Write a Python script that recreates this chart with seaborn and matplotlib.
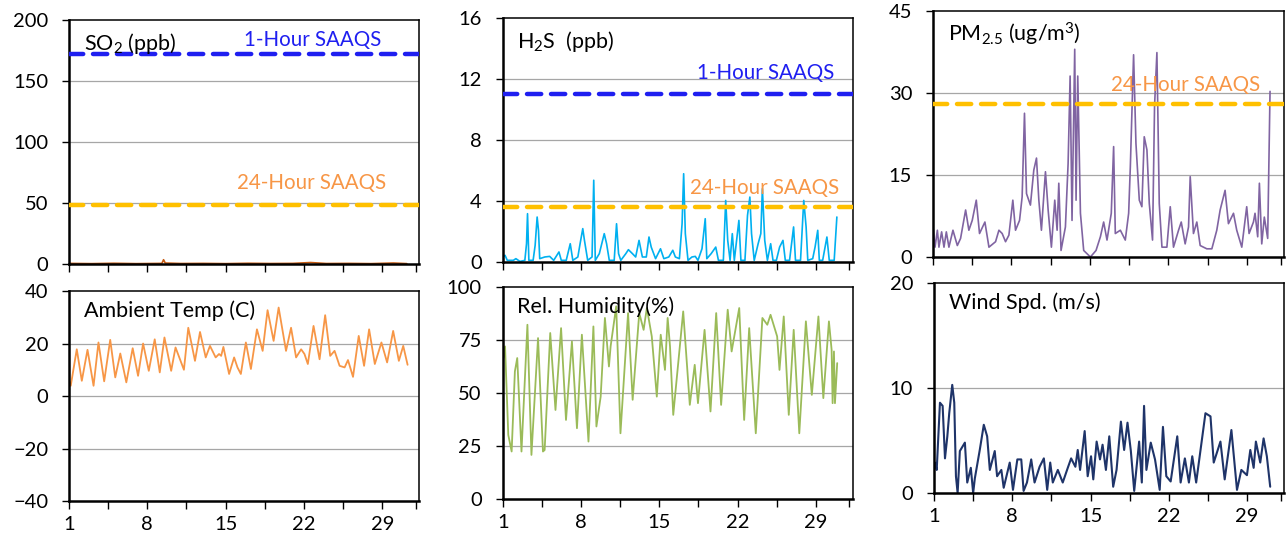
"""Monthly air quality and met summary, six panels."""

import matplotlib
matplotlib.use("Agg")
import matplotlib.pyplot as plt
import seaborn as sns

# --- data (day of month, value) ---
so2_day = [1.0, 3.0, 5.0, 7.0, 9.3, 9.45, 9.6, 11.0, 13.0, 15.0, 17.0, 19.0, 21.0, 22.6, 24.0, 26.0, 28.0, 30.0, 31.2]
so2_val = [0.5, 0.3, 0.6, 0.3, 0.5, 3.5, 0.8, 0.4, 0.5, 0.3, 0.6, 0.4, 0.5, 1.2, 0.4, 0.5, 0.3, 0.8, 0.3]

h2s_day = [1.00, 1.21, 1.41, 1.95, 2.18, 2.54, 2.98, 3.13, 3.22, 3.34, 3.72, 3.90, 4.08, 4.20, 4.31,
           4.76, 5.20, 5.56, 6.03, 6.24, 6.68, 7.04, 7.27, 7.72, 7.92, 8.16, 8.31, 8.60, 8.99, 9.14,
           9.28, 9.64, 10.08, 10.29, 10.53, 10.97, 11.18, 11.36, 11.56, 12.01, 12.24, 12.60, 12.89,
           13.19, 13.49, 13.84, 14.08, 14.28, 14.67, 15.11, 15.41, 15.85, 16.21, 16.44, 16.80, 17.04,
           17.18, 17.33, 17.57, 17.92, 18.22, 18.46, 18.82, 19.11, 19.25, 19.64, 20.05, 20.29, 20.73,
           20.94, 21.12, 21.33, 21.53, 21.71, 22.12, 22.30, 22.66, 22.89, 23.10, 23.25, 23.49, 23.84,
           24.08, 24.22, 24.43, 24.67, 24.96, 25.17, 25.47, 25.76, 26.06, 26.27, 26.65, 27.01, 27.18,
           27.63, 27.92, 28.13, 28.28, 28.72, 28.93, 29.17, 29.31, 29.61, 29.99, 30.20, 30.64, 30.88]
h2s_val = [0.33, 0.44, 0.11, 0.11, 0.22, 0.04, 0.11, 1.20, 3.17, 0.11, 0.11, 1.09, 2.95, 2.08, 0.22,
           0.33, 0.37, 0.11, 0.66, 0.11, 0.11, 1.20, 0.11, 0.33, 1.20, 2.19, 1.42, 0.11, 0.33, 5.36,
           0.11, 0.55, 1.86, 1.20, 0.11, 0.11, 2.51, 0.55, 0.11, 0.55, 0.81, 0.55, 0.33,
           1.42, 0.33, 0.33, 1.64, 0.98, 0.22, 0.87, 0.22, 0.33, 0.77, 0.33, 0.22, 2.51,
           5.79, 1.86, 0.11, 0.33, 0.37, 0.11, 0.87, 2.84, 0.22, 0.55, 0.98, 0.11, 0.11,
           4.04, 1.42, 0.11, 1.86, 0.11, 2.73, 0.11, 0.11, 3.06, 4.26, 1.86, 0.11, 1.20,
           1.86, 4.81, 1.42, 0.11, 1.20, 0.11, 0.11, 0.98, 1.42, 0.11, 0.11, 2.30, 0.11,
           0.11, 4.04, 2.30, 0.11, 0.22, 0.98, 2.08, 0.11, 0.11, 1.64, 0.11, 0.11, 2.95]

pm_day = [1.00, 1.18, 1.39, 1.53, 1.77, 1.98, 2.19, 2.42, 2.78, 3.17, 3.46, 3.91, 4.20, 4.50, 4.86,
          5.15, 5.63, 5.99, 6.58, 6.88, 7.17, 7.47, 7.77, 8.12, 8.36, 8.72, 8.95, 9.16, 9.34, 9.69,
          9.99, 10.23, 10.44, 10.67, 11.03, 11.27, 11.56, 11.86, 12.07, 12.22, 12.42, 12.81, 13.05,
          13.23, 13.40, 13.64, 13.76, 13.91, 14.15, 14.44, 15.04, 15.54, 15.93, 16.22, 16.52, 16.90,
          17.11, 17.26, 17.71, 18.15, 18.45, 18.60, 18.89, 19.10, 19.40, 19.63, 19.84, 20.08, 20.29,
          20.58, 20.76, 20.97, 21.18, 21.42, 21.86, 22.16, 22.45, 22.90, 23.14, 23.49, 23.79, 23.94,
          24.23, 24.53, 24.83, 25.42, 25.87, 26.31, 26.61, 27.05, 27.35, 27.80, 28.09, 28.54, 28.98,
          29.19, 29.58, 29.72, 29.96, 30.11, 30.32, 30.55, 30.85, 31.06]
pm_val = [5.5, 1.8, 4.9, 1.8, 4.6, 1.8, 4.6, 1.8, 4.9, 2.1, 3.4, 8.6, 4.9, 6.7, 10.4,
          4.3, 6.4, 1.8, 2.8, 4.9, 4.3, 2.8, 4.0, 10.4, 4.9, 6.7, 11.0, 26.3, 11.6, 9.5,
          15.9, 18.1, 10.4, 4.9, 15.6, 8.6, 1.8, 10.4, 4.9, 13.5, 1.2, 5.5, 17.1,
          33.1, 6.7, 38.0, 10.4, 33.1, 8.0, 1.2, 0.0, 1.2, 3.7, 6.4, 3.1, 8.0,
          20.2, 4.3, 4.9, 3.1, 8.0, 16.5, 37.0, 20.8, 10.4, 9.2, 22.0, 19.6, 9.8,
          3.1, 27.6, 37.4, 9.8, 1.8, 1.8, 9.2, 1.8, 4.9, 6.4, 2.4, 5.5, 14.7,
          4.3, 6.4, 2.1, 1.5, 1.5, 4.9, 8.6, 12.2, 6.1, 8.0, 4.9, 1.8, 9.2,
          4.3, 6.4, 8.0, 3.7, 13.5, 2.4, 7.3, 3.4, 30.3]

temp_day = [1.00, 1.15, 1.69, 2.14, 2.65, 3.19, 3.63, 4.14, 4.68, 5.13, 5.58, 6.12, 6.69, 7.17,
            7.62, 8.13, 8.66, 9.11, 9.53, 10.13, 10.52, 11.27, 11.66, 12.26, 12.71, 13.22, 13.60,
            14.11, 14.41, 14.60, 14.80, 15.31, 15.76, 16.06, 16.36, 16.81, 17.26, 17.80, 18.31,
            18.75, 19.29, 19.74, 20.40, 20.85, 21.30, 21.75, 22.05, 22.35, 22.86, 23.40, 23.90,
            24.35, 24.74, 25.19, 25.64, 25.94, 26.39, 26.90, 27.38, 27.83, 28.34, 28.93, 29.44,
            29.98, 30.49, 30.88, 31.27]
temp_val = [5.8, 3.9, 17.8, 5.8, 17.6, 3.9, 20.4, 5.6, 21.4, 7.1, 16.2, 5.2, 18.2, 7.7,
            20.0, 9.6, 21.6, 9.0, 22.3, 9.6, 18.5, 10.0, 26.0, 13.4, 24.4, 14.7, 19.1,
            14.7, 16.0, 15.3, 18.7, 8.4, 14.7, 10.9, 8.4, 20.4, 10.3, 25.4, 17.2,
            32.7, 21.0, 33.7, 17.2, 26.0, 14.7, 17.8, 16.0, 12.2, 26.7, 14.0, 30.8,
            15.3, 17.2, 11.5, 10.9, 13.7, 7.3, 22.9, 11.5, 25.4, 12.2, 20.4, 12.8,
            24.8, 13.4, 19.1, 11.9]

rh_day = [1.06, 1.21, 1.50, 1.80, 2.09, 2.30, 2.68, 3.21, 3.57, 4.16, 4.60, 4.75, 5.25, 5.72,
          6.22, 6.66, 7.19, 7.64, 8.08, 8.67, 9.11, 9.38, 9.76, 10.14, 10.50, 10.65, 11.15, 11.53,
          12.21, 12.62, 13.21, 13.60, 13.89, 14.33, 14.78, 15.13, 15.51, 15.75, 15.96, 16.25,
          16.55, 17.14, 17.73, 18.17, 18.46, 19.05, 19.58, 20.09, 20.53, 21.12, 21.47, 22.15,
          22.59, 23.04, 23.63, 23.92, 24.22, 24.66, 24.95, 25.54, 25.75, 26.13, 26.58, 27.02,
          27.52, 28.11, 28.64, 29.23, 29.67, 30.17, 30.41, 30.50, 30.62, 30.71, 30.91]
rh_val = [66.5, 72.0, 30.2, 22.4, 60.2, 66.5, 22.4, 82.2, 20.8, 75.9, 22.4, 23.1, 78.3, 42.0,
          80.6, 37.3, 74.3, 33.4, 77.5, 27.1, 81.4, 34.2, 48.3, 85.4, 62.5, 72.0, 90.9, 31.0,
          87.7, 46.8, 87.7, 79.8, 90.1, 76.7, 48.3, 77.5, 60.9, 85.4, 72.0, 39.7,
          56.2, 88.5, 44.4, 63.3, 45.2, 79.8, 41.3, 87.7, 44.4, 89.3, 69.6, 90.1,
          37.3, 80.6, 31.0, 57.8, 85.4, 82.2, 86.9, 76.7, 60.9, 86.1, 39.7, 79.8,
          31.0, 83.8, 49.1, 86.1, 47.6, 83.8, 70.4, 45.2, 69.6, 45.2, 64.1]

wind_day = [1.09, 1.24, 1.53, 1.77, 1.98, 2.19, 2.36, 2.63, 2.81, 2.96, 3.11, 3.31, 3.76, 3.97,
            4.29, 4.50, 4.65, 5.09, 5.45, 5.75, 5.99, 6.43, 6.64, 7.02, 7.23, 7.77, 8.06, 8.45,
            8.80, 9.01, 9.31, 9.69, 9.99, 10.44, 10.82, 11.12, 11.39, 11.62, 12.07, 12.51, 12.96,
            13.26, 13.64, 13.85, 14.06, 14.47, 14.74, 15.04, 15.24, 15.54, 15.84, 16.07, 16.37,
            16.67, 17.02, 17.32, 17.71, 18.00, 18.30, 18.60, 18.90, 19.34, 19.58, 19.78, 19.99,
            20.38, 20.76, 21.18, 21.47, 21.77, 22.16, 22.75, 23.05, 23.43, 23.79, 24.09, 24.44,
            24.83, 25.27, 25.72, 26.01, 26.61, 26.99, 27.59, 28.09, 28.48, 28.98, 29.28, 29.58,
            29.78, 30.17, 30.47, 30.76, 31.06]
wind_val = [2.9, 2.2, 8.6, 8.3, 3.3, 5.4, 7.6, 10.3, 8.6, 1.6, 0.0, 4.0, 4.8, 1.0,
            2.4, 0.0, 1.4, 4.1, 6.5, 5.4, 2.2, 4.0, 1.6, 2.2, 0.5, 2.9, 0.3, 3.2,
            3.2, 0.2, 1.0, 3.2, 1.0, 2.5, 3.3, 0.3, 2.9, 1.0, 2.2, 1.0, 2.4,
            3.3, 2.5, 4.1, 2.2, 5.9, 1.6, 3.5, 1.3, 4.9, 3.2, 4.6, 2.2,
            5.4, 0.6, 2.2, 6.8, 4.1, 6.7, 4.0, 0.2, 4.9, 1.0, 8.3, 2.2,
            4.8, 3.2, 0.3, 6.3, 1.6, 1.1, 5.4, 1.0, 3.3, 1.0, 3.5, 1.0,
            4.1, 7.6, 7.3, 2.9, 4.9, 1.3, 6.0, 0.3, 2.2, 1.7, 4.1, 2.4,
            4.9, 2.9, 5.2, 3.5, 0.6]

# ambient standards (SAAQS)
so2_1h, so2_24h = 172, 48
h2s_1h, h2s_24h = 11, 3.6
pm_24h = 28

day_ticks = [1, 8, 15, 22, 29]
minor_ticks = [4.5, 11.5, 18.5, 25.5, 32]

BLUE = "#1f1ff0"
GOLD = "#ffc000"
ORANGE_TXT = "#f79646"
TITLE_SIZE = 15.5
NOTE_SIZE = 14.8
TICK_SIZE = 14.5

sns.set_theme(style="white")
plt.rcParams["font.family"] = ["Lato", "DejaVu Sans"]
plt.rcParams["mathtext.fontset"] = "custom"
plt.rcParams["mathtext.rm"] = "Lato"
plt.rcParams["mathtext.default"] = "regular"

fig = plt.figure(figsize=(12.86, 5.33), dpi=100)

positions = [
    [0.0537, 0.5047, 0.2722, 0.4578],
    [0.3909, 0.5084, 0.2722, 0.4578],
    [0.7255, 0.5178, 0.2729, 0.4615],
    [0.0537, 0.0600, 0.2722, 0.3940],
    [0.3909, 0.0638, 0.2722, 0.3977],
    [0.7263, 0.0750, 0.2722, 0.3940],
]
axes = [fig.add_axes(p) for p in positions]


def style_axis(ax, ylim, yticks, title, bottom_row):
    ax.set_xlim(1, 32.3)
    ax.set_ylim(*ylim)
    ax.set_yticks(yticks)
    ax.set_xticks(day_ticks)
    ax.set_xticks(minor_ticks, minor=True)
    ax.set_xticklabels([str(d) for d in day_ticks] if bottom_row else [])
    for y in yticks[1:-1]:
        ax.axhline(y, color="#a6a6a6", lw=0.9, zorder=0)
    for side in ["left", "bottom"]:
        ax.spines[side].set_linewidth(1.8)
        ax.spines[side].set_color("black")
    for side in ["top", "right"]:
        ax.spines[side].set_linewidth(1.1)
        ax.spines[side].set_color("black")
    ax.tick_params(axis="y", which="both", direction="out", length=5, width=1,
                   left=True, pad=10, labelsize=TICK_SIZE, colors="black")
    ax.tick_params(axis="x", which="both", direction="out", length=5.5, width=1,
                   bottom=True, pad=5, labelsize=TICK_SIZE, colors="black")
    ax.set_xlabel("")
    ax.set_ylabel("")
    ax.text(0.042, 0.905, title, transform=ax.transAxes, fontsize=TITLE_SIZE,
            ha="left", va="center", color="black")


def standard(ax, level, color):
    ax.axhline(level, color=color, lw=3.2, dashes=(3.2, 2.2),
               dash_capstyle="round", zorder=3)


# SO2
ax = axes[0]
sns.lineplot(x=so2_day, y=so2_val, ax=ax, color="#c55a11", lw=1.2, estimator=None)
standard(ax, so2_1h, BLUE)
standard(ax, so2_24h, GOLD)
ax.text(22.75, 184, "1-Hour SAAQS", color=BLUE, fontsize=NOTE_SIZE, ha="center", va="center")
ax.text(22.7, 66, "24-Hour SAAQS", color=ORANGE_TXT, fontsize=NOTE_SIZE, ha="center", va="center")
style_axis(ax, (0, 200), [0, 50, 100, 150, 200], "SO$_2$ (ppb)", False)

# H2S
ax = axes[1]
sns.lineplot(x=h2s_day, y=h2s_val, ax=ax, color="#00b0f0", lw=1.2, estimator=None)
standard(ax, h2s_1h, BLUE)
standard(ax, h2s_24h, GOLD)
ax.text(24.5, 12.4, "1-Hour SAAQS", color=BLUE, fontsize=NOTE_SIZE, ha="center", va="center")
ax.text(24.4, 4.85, "24-Hour SAAQS", color=ORANGE_TXT, fontsize=NOTE_SIZE, ha="center", va="center")
style_axis(ax, (0, 16), [0, 4, 8, 12, 16], "H$_2$S  (ppb)", False)

# PM2.5
ax = axes[2]
sns.lineplot(x=pm_day, y=pm_val, ax=ax, color="#8064a2", lw=1.2, estimator=None)
standard(ax, pm_24h, GOLD)
ax.text(23.5, 31.5, "24-Hour SAAQS", color=ORANGE_TXT, fontsize=NOTE_SIZE, ha="center", va="center")
style_axis(ax, (0, 45), [0, 15, 30, 45], "PM$_{2.5}$ (ug/m$^3$)", False)

# Temperature
ax = axes[3]
sns.lineplot(x=temp_day, y=temp_val, ax=ax, color="#f79646", lw=1.3, estimator=None)
style_axis(ax, (-40, 40), [-40, -20, 0, 20, 40], "Ambient Temp (C)", True)

# Relative humidity
ax = axes[4]
sns.lineplot(x=rh_day, y=rh_val, ax=ax, color="#9bbb59", lw=1.3, estimator=None)
style_axis(ax, (0, 100), [0, 25, 50, 75, 100], "Rel. Humidity(%)", True)

# Wind speed
ax = axes[5]
sns.lineplot(x=wind_day, y=wind_val, ax=ax, color="#1f3469", lw=1.5, estimator=None)
style_axis(ax, (0, 20), [0, 10, 20], "Wind Spd. (m/s)", True)

fig.savefig("out.png", dpi=100)
plt.close(fig)
